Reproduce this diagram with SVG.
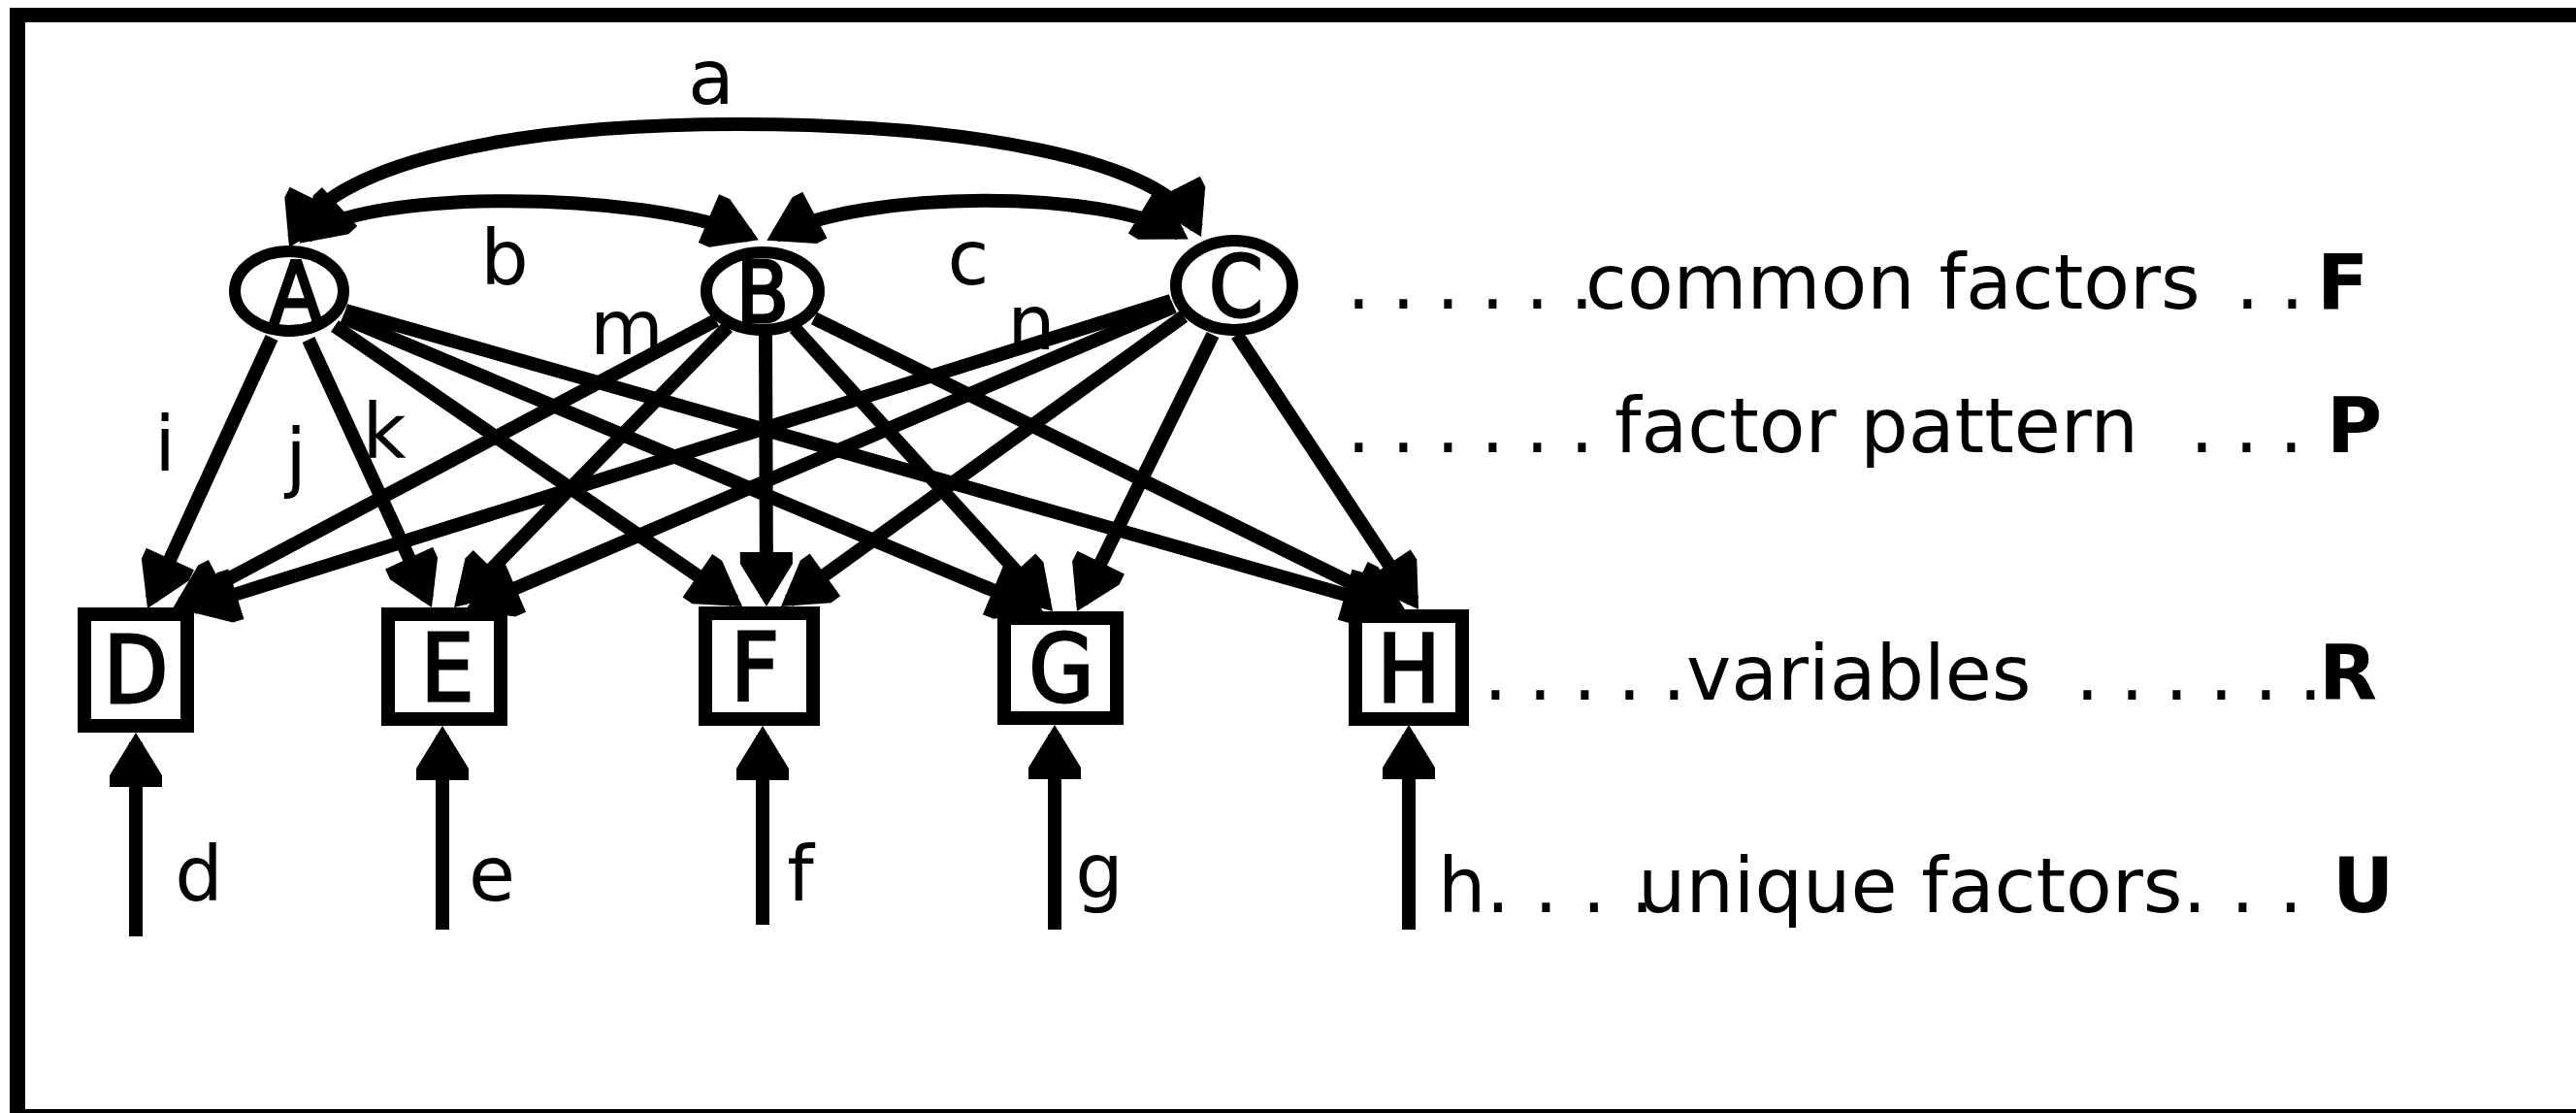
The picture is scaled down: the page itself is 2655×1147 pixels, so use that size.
<svg xmlns="http://www.w3.org/2000/svg" width="2655" height="1147" viewBox="0 0 2655 1147">
<style>
.ln{stroke:#000;stroke-width:14;fill:none;marker-end:url(#ah)}
.arc{stroke:#000;stroke-width:14;fill:none;marker-start:url(#ah);marker-end:url(#ah)}
.nd{fill:#fff;stroke:#000;stroke-width:12}
.bx{fill:#fff;stroke:#000;stroke-width:14}
.nl{font-family:"DejaVu Sans Condensed","DejaVu Sans",sans-serif;font-size:96px;text-anchor:middle;fill:#000;stroke:#000;stroke-width:3px}
.cl{font-size:88px}
.t{font-family:"DejaVu Sans",sans-serif;font-size:78px;fill:#000}
.tm{text-anchor:middle}
.dots{letter-spacing:-1.8px}
.bd{font-weight:bold}
</style>
<defs>
<marker id="ah" viewBox="-50 -30 62 60" refX="0" refY="0" markerWidth="62" markerHeight="60" markerUnits="userSpaceOnUse" orient="auto-start-reverse">
<path d="M10,0 L-34,-27 L-46,-27 L-46,27 L-34,27 Z" fill="#000"/>
</marker>
</defs>
<rect x="0" y="0" width="2655" height="1147" fill="#fff"/>
<g id="frame" fill="#000">
<rect x="10" y="8" width="2645" height="15"/>
<rect x="10" y="8" width="16" height="1139"/>
<rect x="10" y="1143" width="2645" height="4"/>
</g>
<g id="connectors">
<path class="arc" d="M302.5,246 C340,170 520,128 760,128 C1000,128 1197.5,163.8 1233.5,235"/>
<path class="arc" d="M316,244 C370,195 660,195 772.7,243.3"/>
<path class="arc" d="M799.2,243.1 C890,195 1140,195 1216.2,241.3"/>
<path class="ln" d="M280,348 L156.2,617.9"/>
<path class="ln" d="M318,350 L440.8,616.9"/>
<path class="ln" d="M345,336 L756.8,619.3"/>
<path class="ln" d="M353,327 L1065.8,626.1"/>
<path class="ln" d="M356,320 L1430.4,625.3"/>
<path class="ln" d="M738,330 L186.8,622.3"/>
<path class="ln" d="M750,337 L475,618.8"/>
<path class="ln" d="M789,344 L790,615"/>
<path class="ln" d="M819,338 L1078.3,622.6"/>
<path class="ln" d="M839,328 L1439,623.6"/>
<path class="ln" d="M1207,310 L199.5,626"/>
<path class="ln" d="M1210,316 L489.2,624.1"/>
<path class="ln" d="M1220,326 L813.1,619.2"/>
<path class="ln" d="M1250,345 L1114.4,621"/>
<path class="ln" d="M1275,345 L1456.5,619.7"/>
<path class="ln" d="M140,965 L140,765"/>
<path class="ln" d="M456,958 L456,758"/>
<path class="ln" d="M786,953 L786,758"/>
<path class="ln" d="M1087,958 L1087,757"/>
<path class="ln" d="M1452,958 L1452,757"/>
</g>
<g id="nodeA"><ellipse class="nd" cx="298" cy="300" rx="56" ry="41"/><text class="nl cl" x="305" y="332">A</text></g>
<g id="nodeB"><ellipse class="nd" cx="786" cy="300" rx="58" ry="40"/><text class="nl cl" x="786" y="332">B</text></g>
<g id="nodeC"><ellipse class="nd" cx="1272" cy="294" rx="60" ry="46"/><text class="nl cl" x="1274" y="326">C</text></g>
<g id="nodeD"><rect class="bx" x="87" y="633" width="106" height="115"/><text class="nl" x="140" y="724">D</text></g>
<g id="nodeE"><rect class="bx" x="400" y="633" width="116" height="108"/><text class="nl" x="461" y="722">E</text></g>
<g id="nodeF"><rect class="bx" x="727" y="632" width="111" height="109"/><text class="nl" x="778" y="722">F</text></g>
<g id="nodeG"><rect class="bx" x="1035" y="637" width="116" height="103"/><text class="nl" x="1094" y="723">G</text></g>
<g id="nodeH"><rect class="bx" x="1397" y="635" width="110" height="106"/><text class="nl" x="1452" y="723">H</text></g>
<g id="labels">
<text class="t tm" x="733" y="107">a</text>
<text class="t tm" x="520" y="293">b</text>
<text class="t tm" x="998" y="293">c</text>
<text class="t tm" x="646" y="365">m</text>
<text class="t tm" x="1063" y="360">n</text>
<text class="t tm" x="170" y="485">i</text>
<text class="t tm" x="305" y="498">j</text>
<text class="t tm" x="396" y="472">k</text>
<text class="t tm" x="205" y="928">d</text>
<text class="t tm" x="507" y="928">e</text>
<text class="t tm" x="825" y="928">f</text>
<text class="t tm" x="1133" y="925">g</text>
</g>
<g id="legend">
<text class="t" y="318"><tspan class="dots" x="1388">. . . . . .</tspan><tspan x="1634">common factors</tspan><tspan class="dots" x="2281"> . .</tspan><tspan class="bd" x="2388">F</tspan></text>
<text class="t" y="466"><tspan class="dots" x="1388">. . . . . . </tspan><tspan x="1664">factor pattern</tspan><tspan class="dots" x="2234"> . . .</tspan><tspan class="bd" x="2398">P</tspan></text>
<text class="t" y="721"><tspan class="dots" x="1529">. . . . .</tspan><tspan x="1738">variables</tspan><tspan class="dots" x="2116"> . . . . . .</tspan><tspan class="bd" x="2390">R</tspan></text>
<text class="t" y="940"><tspan x="1482">h. . . .</tspan><tspan x="1688">unique factors. . .</tspan><tspan class="bd" x="2404">U</tspan></text>
</g>
</svg>
